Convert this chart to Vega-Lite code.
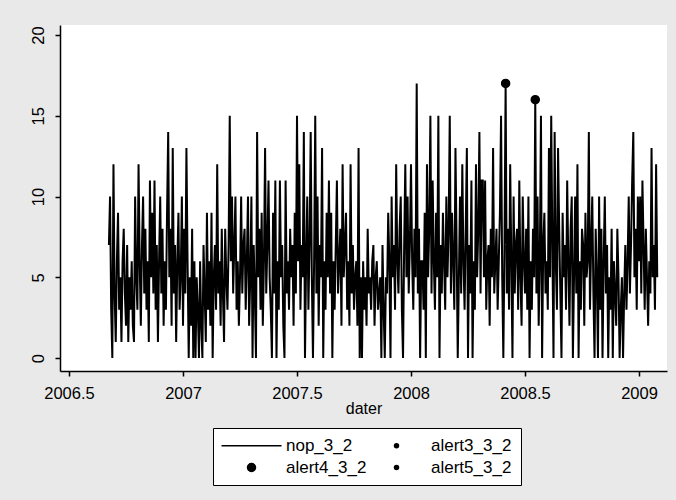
{
  "$schema": "https://vega.github.io/schema/vega-lite/v6.json",
  "width": 607,
  "height": 346,
  "autosize": {"type": "none"},
  "padding": {"left": 60, "top": 25, "right": 9, "bottom": 129},
  "background": "#e9e9e9",
  "view": {"fill": "white", "stroke": null},
  "config": {
    "font": "Liberation Sans",
    "axis": {
      "grid": false,
      "domainColor": "black",
      "domainWidth": 1.5,
      "tickColor": "black",
      "tickWidth": 1.5,
      "tickSize": 5,
      "labelFont": "Liberation Sans",
      "labelFontSize": 16.5,
      "labelColor": "black",
      "titleFont": "Liberation Sans",
      "titleFontSize": 16,
      "titleFontWeight": "normal",
      "titleColor": "black"
    },
    "legend": {
      "labelFont": "Liberation Sans",
      "labelFontSize": 17,
      "labelColor": "black"
    }
  },
  "datasets": {
    "nop": [
      {"t":2006.675,"n":7},{"t":2006.680,"n":10},{"t":2006.685,"n":3},{"t":2006.690,"n":0},{"t":2006.695,"n":12},{"t":2006.700,"n":4},{"t":2006.705,"n":1},{"t":2006.710,"n":6},{"t":2006.715,"n":9},{"t":2006.720,"n":3},
      {"t":2006.725,"n":5},{"t":2006.730,"n":1},{"t":2006.735,"n":6},{"t":2006.740,"n":8},{"t":2006.745,"n":4},{"t":2006.750,"n":2},{"t":2006.755,"n":7},{"t":2006.760,"n":1},{"t":2006.765,"n":5},{"t":2006.770,"n":3},
      {"t":2006.775,"n":6},{"t":2006.780,"n":2},{"t":2006.785,"n":1},{"t":2006.790,"n":10},{"t":2006.795,"n":5},{"t":2006.800,"n":3},{"t":2006.805,"n":12},{"t":2006.810,"n":6},{"t":2006.815,"n":2},{"t":2006.820,"n":7},
      {"t":2006.825,"n":10},{"t":2006.830,"n":4},{"t":2006.835,"n":8},{"t":2006.840,"n":3},{"t":2006.845,"n":6},{"t":2006.850,"n":1},{"t":2006.855,"n":11},{"t":2006.860,"n":5},{"t":2006.865,"n":9},{"t":2006.870,"n":4},
      {"t":2006.875,"n":11},{"t":2006.880,"n":3},{"t":2006.885,"n":7},{"t":2006.890,"n":1},{"t":2006.895,"n":6},{"t":2006.900,"n":10},{"t":2006.905,"n":4},{"t":2006.910,"n":8},{"t":2006.915,"n":2},{"t":2006.920,"n":6},
      {"t":2006.925,"n":3},{"t":2006.930,"n":9},{"t":2006.935,"n":14},{"t":2006.940,"n":5},{"t":2006.945,"n":8},{"t":2006.950,"n":2},{"t":2006.955,"n":13},{"t":2006.960,"n":4},{"t":2006.965,"n":7},{"t":2006.970,"n":1},
      {"t":2006.975,"n":6},{"t":2006.980,"n":9},{"t":2006.985,"n":3},{"t":2006.990,"n":5},{"t":2006.995,"n":10},{"t":2007.000,"n":2},{"t":2007.005,"n":8},{"t":2007.010,"n":4},{"t":2007.015,"n":13},{"t":2007.020,"n":6},
      {"t":2007.025,"n":0},{"t":2007.030,"n":5},{"t":2007.035,"n":2},{"t":2007.040,"n":8},{"t":2007.045,"n":0},{"t":2007.050,"n":6},{"t":2007.055,"n":0},{"t":2007.060,"n":5},{"t":2007.065,"n":3},{"t":2007.070,"n":0},
      {"t":2007.075,"n":6},{"t":2007.080,"n":2},{"t":2007.085,"n":0},{"t":2007.090,"n":7},{"t":2007.095,"n":4},{"t":2007.100,"n":1},{"t":2007.105,"n":9},{"t":2007.110,"n":3},{"t":2007.115,"n":6},{"t":2007.120,"n":2},
      {"t":2007.125,"n":9},{"t":2007.130,"n":0},{"t":2007.135,"n":5},{"t":2007.140,"n":7},{"t":2007.145,"n":3},{"t":2007.150,"n":12},{"t":2007.155,"n":4},{"t":2007.160,"n":6},{"t":2007.165,"n":2},{"t":2007.170,"n":8},
      {"t":2007.175,"n":4},{"t":2007.180,"n":1},{"t":2007.185,"n":8},{"t":2007.190,"n":5},{"t":2007.195,"n":3},{"t":2007.200,"n":7},{"t":2007.205,"n":15},{"t":2007.210,"n":6},{"t":2007.215,"n":10},{"t":2007.220,"n":4},
      {"t":2007.225,"n":7},{"t":2007.230,"n":10},{"t":2007.235,"n":3},{"t":2007.240,"n":6},{"t":2007.245,"n":2},{"t":2007.250,"n":5},{"t":2007.255,"n":10},{"t":2007.260,"n":4},{"t":2007.265,"n":7},{"t":2007.270,"n":8},
      {"t":2007.275,"n":3},{"t":2007.280,"n":6},{"t":2007.285,"n":10},{"t":2007.290,"n":2},{"t":2007.295,"n":5},{"t":2007.300,"n":10},{"t":2007.305,"n":0},{"t":2007.310,"n":7},{"t":2007.315,"n":4},{"t":2007.320,"n":0},
      {"t":2007.325,"n":14},{"t":2007.330,"n":5},{"t":2007.335,"n":8},{"t":2007.340,"n":3},{"t":2007.345,"n":9},{"t":2007.350,"n":2},{"t":2007.355,"n":6},{"t":2007.360,"n":13},{"t":2007.365,"n":4},{"t":2007.370,"n":7},
      {"t":2007.375,"n":11},{"t":2007.380,"n":5},{"t":2007.385,"n":3},{"t":2007.390,"n":0},{"t":2007.395,"n":9},{"t":2007.400,"n":4},{"t":2007.405,"n":11},{"t":2007.410,"n":0},{"t":2007.415,"n":6},{"t":2007.420,"n":3},
      {"t":2007.425,"n":11},{"t":2007.430,"n":5},{"t":2007.435,"n":7},{"t":2007.440,"n":2},{"t":2007.445,"n":0},{"t":2007.450,"n":11},{"t":2007.455,"n":4},{"t":2007.460,"n":6},{"t":2007.465,"n":3},{"t":2007.470,"n":8},
      {"t":2007.475,"n":5},{"t":2007.480,"n":7},{"t":2007.485,"n":2},{"t":2007.490,"n":9},{"t":2007.495,"n":4},{"t":2007.500,"n":15},{"t":2007.505,"n":6},{"t":2007.510,"n":12},{"t":2007.515,"n":3},{"t":2007.520,"n":7},
      {"t":2007.525,"n":5},{"t":2007.530,"n":14},{"t":2007.535,"n":0},{"t":2007.540,"n":6},{"t":2007.545,"n":10},{"t":2007.550,"n":3},{"t":2007.555,"n":7},{"t":2007.560,"n":14},{"t":2007.565,"n":5},{"t":2007.570,"n":0},
      {"t":2007.575,"n":6},{"t":2007.580,"n":15},{"t":2007.585,"n":4},{"t":2007.590,"n":10},{"t":2007.595,"n":2},{"t":2007.600,"n":7},{"t":2007.605,"n":5},{"t":2007.610,"n":13},{"t":2007.615,"n":0},{"t":2007.620,"n":6},
      {"t":2007.625,"n":3},{"t":2007.630,"n":9},{"t":2007.635,"n":5},{"t":2007.640,"n":11},{"t":2007.645,"n":4},{"t":2007.650,"n":9},{"t":2007.655,"n":0},{"t":2007.660,"n":6},{"t":2007.665,"n":3},{"t":2007.670,"n":7},
      {"t":2007.675,"n":11},{"t":2007.680,"n":4},{"t":2007.685,"n":6},{"t":2007.690,"n":8},{"t":2007.695,"n":2},{"t":2007.700,"n":12},{"t":2007.705,"n":5},{"t":2007.710,"n":7},{"t":2007.715,"n":9},{"t":2007.720,"n":3},
      {"t":2007.725,"n":6},{"t":2007.730,"n":2},{"t":2007.735,"n":12},{"t":2007.740,"n":4},{"t":2007.745,"n":7},{"t":2007.750,"n":3},{"t":2007.755,"n":5},{"t":2007.760,"n":6},{"t":2007.765,"n":2},{"t":2007.770,"n":13},
      {"t":2007.775,"n":0},{"t":2007.780,"n":5},{"t":2007.785,"n":0},{"t":2007.790,"n":6},{"t":2007.795,"n":3},{"t":2007.800,"n":5},{"t":2007.805,"n":2},{"t":2007.810,"n":8},{"t":2007.815,"n":4},{"t":2007.820,"n":5},
      {"t":2007.825,"n":3},{"t":2007.830,"n":6},{"t":2007.835,"n":7},{"t":2007.840,"n":2},{"t":2007.845,"n":5},{"t":2007.850,"n":6},{"t":2007.855,"n":3},{"t":2007.860,"n":4},{"t":2007.865,"n":5},{"t":2007.870,"n":0},
      {"t":2007.875,"n":7},{"t":2007.880,"n":3},{"t":2007.885,"n":0},{"t":2007.890,"n":5},{"t":2007.895,"n":4},{"t":2007.900,"n":9},{"t":2007.905,"n":6},{"t":2007.910,"n":0},{"t":2007.915,"n":10},{"t":2007.920,"n":5},
      {"t":2007.925,"n":7},{"t":2007.930,"n":3},{"t":2007.935,"n":12},{"t":2007.940,"n":6},{"t":2007.945,"n":4},{"t":2007.950,"n":8},{"t":2007.955,"n":10},{"t":2007.960,"n":3},{"t":2007.965,"n":0},{"t":2007.970,"n":7},
      {"t":2007.975,"n":12},{"t":2007.980,"n":5},{"t":2007.985,"n":10},{"t":2007.990,"n":4},{"t":2007.995,"n":7},{"t":2008.000,"n":12},{"t":2008.005,"n":6},{"t":2008.010,"n":3},{"t":2008.015,"n":8},{"t":2008.020,"n":5},
      {"t":2008.025,"n":17},{"t":2008.030,"n":4},{"t":2008.035,"n":8},{"t":2008.040,"n":0},{"t":2008.045,"n":6},{"t":2008.050,"n":6},{"t":2008.055,"n":3},{"t":2008.060,"n":9},{"t":2008.065,"n":0},{"t":2008.070,"n":12},
      {"t":2008.075,"n":5},{"t":2008.080,"n":8},{"t":2008.085,"n":15},{"t":2008.090,"n":4},{"t":2008.095,"n":11},{"t":2008.100,"n":6},{"t":2008.105,"n":3},{"t":2008.110,"n":9},{"t":2008.115,"n":5},{"t":2008.120,"n":15},
      {"t":2008.125,"n":0},{"t":2008.130,"n":7},{"t":2008.135,"n":4},{"t":2008.140,"n":9},{"t":2008.145,"n":6},{"t":2008.150,"n":3},{"t":2008.155,"n":10},{"t":2008.160,"n":5},{"t":2008.165,"n":8},{"t":2008.170,"n":15},
      {"t":2008.175,"n":4},{"t":2008.180,"n":9},{"t":2008.185,"n":6},{"t":2008.190,"n":3},{"t":2008.195,"n":13},{"t":2008.200,"n":7},{"t":2008.205,"n":0},{"t":2008.210,"n":5},{"t":2008.215,"n":10},{"t":2008.220,"n":4},
      {"t":2008.225,"n":12},{"t":2008.230,"n":6},{"t":2008.235,"n":3},{"t":2008.240,"n":8},{"t":2008.245,"n":13},{"t":2008.250,"n":0},{"t":2008.255,"n":7},{"t":2008.260,"n":4},{"t":2008.265,"n":11},{"t":2008.270,"n":0},
      {"t":2008.275,"n":6},{"t":2008.280,"n":3},{"t":2008.285,"n":12},{"t":2008.290,"n":5},{"t":2008.295,"n":8},{"t":2008.300,"n":14},{"t":2008.305,"n":4},{"t":2008.310,"n":11},{"t":2008.315,"n":11},{"t":2008.320,"n":5},
      {"t":2008.325,"n":11},{"t":2008.330,"n":3},{"t":2008.335,"n":6},{"t":2008.340,"n":7},{"t":2008.345,"n":2},{"t":2008.350,"n":8},{"t":2008.355,"n":5},{"t":2008.360,"n":13},{"t":2008.365,"n":4},{"t":2008.370,"n":6},
      {"t":2008.375,"n":8},{"t":2008.380,"n":3},{"t":2008.385,"n":6},{"t":2008.390,"n":9},{"t":2008.395,"n":15},{"t":2008.400,"n":5},{"t":2008.405,"n":0},{"t":2008.410,"n":7},{"t":2008.415,"n":17},{"t":2008.420,"n":4},
      {"t":2008.425,"n":8},{"t":2008.430,"n":3},{"t":2008.435,"n":12},{"t":2008.440,"n":6},{"t":2008.445,"n":0},{"t":2008.450,"n":10},{"t":2008.455,"n":4},{"t":2008.460,"n":7},{"t":2008.465,"n":8},{"t":2008.470,"n":3},
      {"t":2008.475,"n":11},{"t":2008.480,"n":5},{"t":2008.485,"n":2},{"t":2008.490,"n":10},{"t":2008.495,"n":6},{"t":2008.500,"n":4},{"t":2008.505,"n":8},{"t":2008.510,"n":3},{"t":2008.515,"n":10},{"t":2008.520,"n":0},
      {"t":2008.525,"n":6},{"t":2008.530,"n":3},{"t":2008.535,"n":8},{"t":2008.540,"n":5},{"t":2008.545,"n":16},{"t":2008.550,"n":4},{"t":2008.555,"n":10},{"t":2008.560,"n":2},{"t":2008.565,"n":6},{"t":2008.570,"n":15},
      {"t":2008.575,"n":0},{"t":2008.580,"n":7},{"t":2008.585,"n":9},{"t":2008.590,"n":4},{"t":2008.595,"n":6},{"t":2008.600,"n":3},{"t":2008.605,"n":13},{"t":2008.610,"n":5},{"t":2008.615,"n":15},{"t":2008.620,"n":7},
      {"t":2008.625,"n":0},{"t":2008.630,"n":14},{"t":2008.635,"n":6},{"t":2008.640,"n":3},{"t":2008.645,"n":13},{"t":2008.650,"n":8},{"t":2008.655,"n":4},{"t":2008.660,"n":0},{"t":2008.665,"n":9},{"t":2008.670,"n":5},
      {"t":2008.675,"n":7},{"t":2008.680,"n":3},{"t":2008.685,"n":11},{"t":2008.690,"n":6},{"t":2008.695,"n":2},{"t":2008.700,"n":8},{"t":2008.705,"n":10},{"t":2008.710,"n":0},{"t":2008.715,"n":5},{"t":2008.720,"n":10},
      {"t":2008.725,"n":4},{"t":2008.730,"n":12},{"t":2008.735,"n":0},{"t":2008.740,"n":6},{"t":2008.745,"n":3},{"t":2008.750,"n":8},{"t":2008.755,"n":7},{"t":2008.760,"n":2},{"t":2008.765,"n":9},{"t":2008.770,"n":5},
      {"t":2008.775,"n":6},{"t":2008.780,"n":14},{"t":2008.785,"n":3},{"t":2008.790,"n":7},{"t":2008.795,"n":10},{"t":2008.800,"n":4},{"t":2008.805,"n":0},{"t":2008.810,"n":8},{"t":2008.815,"n":5},{"t":2008.820,"n":0},
      {"t":2008.825,"n":10},{"t":2008.830,"n":3},{"t":2008.835,"n":8},{"t":2008.840,"n":0},{"t":2008.845,"n":6},{"t":2008.850,"n":10},{"t":2008.855,"n":4},{"t":2008.860,"n":7},{"t":2008.865,"n":0},{"t":2008.870,"n":5},
      {"t":2008.875,"n":3},{"t":2008.880,"n":8},{"t":2008.885,"n":0},{"t":2008.890,"n":6},{"t":2008.895,"n":4},{"t":2008.900,"n":2},{"t":2008.905,"n":8},{"t":2008.910,"n":5},{"t":2008.915,"n":0},{"t":2008.920,"n":3},
      {"t":2008.925,"n":5},{"t":2008.930,"n":0},{"t":2008.935,"n":4},{"t":2008.940,"n":7},{"t":2008.945,"n":3},{"t":2008.950,"n":6},{"t":2008.955,"n":10},{"t":2008.960,"n":4},{"t":2008.965,"n":7},{"t":2008.970,"n":11},
      {"t":2008.975,"n":14},{"t":2008.980,"n":5},{"t":2008.985,"n":8},{"t":2008.990,"n":3},{"t":2008.995,"n":10},{"t":2009.000,"n":6},{"t":2009.005,"n":10},{"t":2009.010,"n":4},{"t":2009.015,"n":11},{"t":2009.020,"n":7},
      {"t":2009.025,"n":3},{"t":2009.030,"n":8},{"t":2009.035,"n":5},{"t":2009.040,"n":2},{"t":2009.045,"n":6},{"t":2009.050,"n":4},{"t":2009.055,"n":13},{"t":2009.060,"n":5},{"t":2009.065,"n":7},{"t":2009.070,"n":3},
      {"t":2009.075,"n":12},{"t":2009.080,"n":5}
    ],
    "alerts": [
      {"t":2008.415,"n":17,"series":"alert4_3_2"},
      {"t":2008.545,"n":16,"series":"alert4_3_2"}
    ]
  },
  "layer": [
    {
      "data": {"name": "nop"},
      "mark": {"type": "line", "color": "black", "strokeWidth": 2},
      "encoding": {
        "x": {
          "field": "t",
          "type": "quantitative",
          "scale": {"domain": [2006.4605, 2009.1228], "nice": false, "zero": false},
          "axis": {
            "title": "dater",
            "values": [2006.5, 2007, 2007.5, 2008, 2008.5, 2009],
            "labelExpr": "datum.value + ''",
            "labelPadding": 9,
            "titlePadding": -1,
            "labelFlush": false,
            "labelOverlap": false
          }
        },
        "y": {
          "field": "n",
          "type": "quantitative",
          "scale": {"domain": [-0.8, 20.62], "nice": false, "zero": false},
          "axis": {
            "title": null,
            "values": [0, 5, 10, 15, 20],
            "labelAngle": 270,
            "labelAlign": "center",
            "labelBaseline": "alphabetic",
            "labelPadding": 12
          }
        }
      }
    },
    {
      "data": {"name": "alerts"},
      "mark": {"type": "point", "filled": true, "color": "black", "stroke": "black", "opacity": 1, "strokeWidth": 1.5},
      "encoding": {
        "x": {"field": "t", "type": "quantitative"},
        "y": {"field": "n", "type": "quantitative"},
        "shape": {
          "field": "series",
          "type": "nominal",
          "scale": {
            "domain": ["nop_3_2", "alert3_3_2", "alert4_3_2", "alert5_3_2"],
            "range": ["M-7.5,0H7.5", "circle", "circle", "circle"]
          },
          "legend": {
            "title": null,
            "orient": "none",
            "legendX": 153,
            "legendY": 403,
            "columns": 2,
            "direction": "horizontal",
            "strokeColor": "black",
            "fillColor": "white",
            "padding": 9,
            "rowPadding": 4,
            "columnPadding": -35,
            "symbolOffset": 21,
            "labelOffset": 26,
            "symbolStrokeColor": "black",
            "symbolFillColor": "black",
            "symbolStrokeWidth": 1.5
          }
        },
        "size": {
          "field": "series",
          "type": "nominal",
          "scale": {
            "type": "ordinal",
            "domain": ["nop_3_2", "alert3_3_2", "alert4_3_2", "alert5_3_2"],
            "range": [64, 16, 64, 16]
          }
        }
      }
    }
  ]
}
